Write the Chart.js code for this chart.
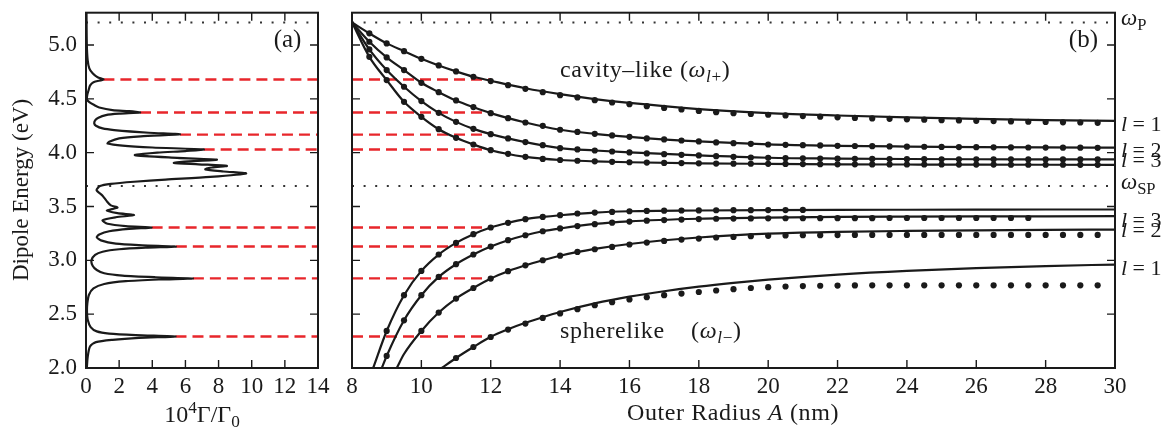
<!DOCTYPE html>
<html><head><meta charset="utf-8">
<script src="https://cdn.jsdelivr.net/npm/chart.js@4.4.1/dist/chart.umd.min.js"></script>
<style>
html,body{margin:0;padding:0;background:#fff;}
#wrap{position:relative;width:1170px;height:429px;overflow:hidden;}
#ca{position:absolute;left:0;top:0;}
#cb{position:absolute;left:340px;top:0;}
</style></head><body>
<div id="wrap"><canvas id="ca" width="340" height="429"></canvas><canvas id="cb" width="830" height="429"></canvas></div>
<script>
// ---------------- data ----------------
const energyTicks = [2.0, 2.5, 3.0, 3.5, 4.0, 4.5, 5.0];
const gammaTicks = [0, 2, 4, 6, 8, 10, 12, 14];
const radiusTicks = [8, 10, 12, 14, 16, 18, 20, 22, 24, 26, 28, 30];

const wP = 5.21;     // plasma frequency line
const wSP = 3.69;    // surface plasmon line

// panel (a) spectrum: energy (eV) and 10^4 Gamma/Gamma0
const specE = [2.00,2.10,2.20,2.24,2.262,2.28,2.293,2.306,2.32,2.34,2.38,2.45,2.52,2.60,2.68,2.74,2.78,2.806,2.822,2.832,2.843,2.858,2.88,2.91,2.95,3.00,3.05,3.08,3.103,3.118,3.128,3.14,3.155,3.185,3.215,3.24,3.27,3.292,3.305,3.318,3.34,3.372,3.40,3.42,3.438,3.462,3.49,3.51,3.55,3.60,3.652,3.69,3.71,3.73,3.75,3.775,3.807,3.825,3.845,3.862,3.877,3.892,3.905,3.92,3.935,3.952,3.977,4.00,4.015,4.03,4.048,4.065,4.085,4.101,4.132,4.152,4.17,4.185,4.21,4.225,4.25,4.271,4.30,4.325,4.349,4.362,4.373,4.385,4.395,4.42,4.442,4.47,4.495,4.54,4.582,4.625,4.655,4.68,4.70,4.737,4.783,4.86,5.00,5.30];
const specG = [0.05,0.10,0.24,0.60,1.6,3.2,5.4,3.0,1.4,0.65,0.28,0.10,0.06,0.08,0.18,0.45,1.1,2.4,4.4,6.45,4.2,2.2,1.1,0.65,0.4,0.33,0.55,1.0,2.0,3.6,5.42,3.4,1.8,0.9,0.65,0.8,1.4,2.6,3.96,2.4,1.3,1.0,1.8,2.9,1.9,1.25,1.9,1.5,1.25,1.0,0.64,0.85,1.5,2.9,4.8,7.5,9.66,8.3,7.2,7.6,8.5,6.8,5.3,6.2,7.9,5.5,2.95,4.3,6.0,7.1,4.0,2.2,1.3,1.4,2.0,3.3,5.67,3.8,1.7,1.0,0.6,0.5,0.55,0.75,1.2,2.0,3.26,2.6,1.6,0.8,0.5,0.2,0.06,0.08,0.16,0.25,0.45,1.05,0.7,0.4,0.2,0.1,0.05,0.03];

// resonance energies (red dashed) and their peak heights in panel (a)
const resE = [4.68, 4.373, 4.168, 4.03, 3.305, 3.128, 2.832, 2.293];
const resG = [1.05, 3.26, 5.67, 7.1, 3.96, 5.42, 6.45, 5.4];

// panel (b) dots, outer radius A (nm)
const dotA = [8.5,9,9.5,10,10.5,11,11.5,12,12.5,13,13.5,14,14.5,15,15.5,16,16.5,17,17.5,18,18.5,19,19.5,20,20.5,21,21.5,22,22.5,23,23.5,24,24.5,25,25.5,26,26.5,27,27.5,28,28.5,29,29.5];
const cav1Dots = [5.108,5.015,4.943,4.872,4.810,4.755,4.705,4.665,4.627,4.593,4.562,4.534,4.513,4.488,4.466,4.450,4.432,4.416,4.401,4.388,4.376,4.367,4.359,4.352,4.346,4.340,4.334,4.328,4.323,4.318,4.314,4.310,4.306,4.302,4.299,4.296,4.293,4.290,4.287,4.285,4.282,4.280,4.277];
const cav2Dots = [5.030,4.885,4.767,4.649,4.562,4.485,4.423,4.367,4.320,4.280,4.249,4.213,4.193,4.175,4.160,4.147,4.132,4.123,4.113,4.104,4.095,4.088,4.082,4.076,4.073,4.070,4.067,4.064,4.062,4.060,4.058,4.056,4.055,4.053,4.052,4.051,4.050,4.049,4.048,4.047,4.046,4.046,4.045];
const cav3Dots = [4.959,4.767,4.612,4.479,4.370,4.286,4.221,4.172,4.132,4.098,4.070,4.042,4.030,4.020,4.011,4.002,3.993,3.986,3.980,3.974,3.967,3.961,3.955,3.952,3.949,3.947,3.945,3.944,3.943,3.942,3.941,3.940,3.940,3.939,3.939,3.938,3.938,3.938,3.937,3.937,3.937,3.937,3.937];
const cav4Dots = [4.890,4.674,4.472,4.333,4.218,4.138,4.076,4.023,3.989,3.961,3.942,3.932,3.925,3.920,3.915,3.911,3.908,3.905,3.903,3.901,3.899,3.898,3.897,3.896,3.895,3.894,3.893,3.892,3.892,3.891,3.891,3.890,3.890,3.890,3.889,3.889,3.889,3.888,3.888,3.888,3.888,3.887,3.887];
const sph4Dots = [null,2.344,2.676,2.902,3.054,3.162,3.243,3.305,3.348,3.382,3.403,3.419,3.435,3.444,3.450,3.456,3.459,3.461,3.463,3.464,3.465,3.466,3.466,3.467,3.467,3.468,null,null,null,null,null,null,null,null,null,null,null,null,null,null,null,null,null];
const sph3Dots = [null,2.112,2.443,2.676,2.846,2.964,3.054,3.128,3.187,3.233,3.270,3.296,3.318,3.336,3.350,3.360,3.368,3.374,3.379,3.383,3.386,3.388,3.389,3.390,3.391,3.391,3.392,3.392,3.392,3.392,3.393,3.393,3.393,3.393,3.393,3.393,3.393,3.393,3.393,null,null,null,null];
const sph2Dots = [null,null,null,2.344,2.515,2.645,2.743,2.831,2.899,2.954,3.001,3.043,3.078,3.103,3.125,3.147,3.165,3.180,3.193,3.202,3.212,3.217,3.224,3.228,3.231,3.233,3.234,3.235,3.236,3.236,3.236,3.236,3.236,3.236,3.236,3.236,3.236,3.236,3.236,3.236,3.236,3.236,3.236];
const sph1Dots = [null,null,null,null,null,2.093,2.195,2.288,2.357,2.413,2.465,2.507,2.546,2.583,2.611,2.636,2.657,2.676,2.691,2.706,2.720,2.732,2.743,2.751,2.757,2.761,2.764,2.766,2.767,2.768,2.768,2.768,2.768,2.768,2.768,2.768,2.768,2.768,2.768,2.768,2.768,2.768,2.768];

// panel (b) solid curves
const cavLineA = [8,8.5,9,9.5,10,10.5,11,11.5,12,13,14,15,16,18,20,22,24,26,28,30];
const cav1Line = [5.21,5.108,5.015,4.943,4.872,4.81,4.755,4.705,4.668,4.598,4.543,4.498,4.462,4.405,4.368,4.345,4.327,4.313,4.303,4.295];
const cav2Line = [5.21,5.03,4.885,4.767,4.649,4.562,4.485,4.423,4.367,4.28,4.213,4.175,4.147,4.104,4.077,4.064,4.057,4.052,4.049,4.047];
const cav3Line = [5.21,4.959,4.767,4.612,4.479,4.37,4.286,4.221,4.172,4.098,4.042,4.02,4.002,3.974,3.953,3.945,3.941,3.939,3.938,3.937];
const cav4Line = [5.21,4.89,4.674,4.472,4.333,4.218,4.138,4.076,4.023,3.961,3.932,3.92,3.911,3.901,3.896,3.892,3.89,3.889,3.888,3.887];
const sph4LineA = [8.61,9,9.5,10,10.5,11,11.5,12,12.5,13,13.5,14,15,16,18,20,22,24,26,28,30];
const sph4Line = [2.0,2.344,2.676,2.902,3.054,3.162,3.243,3.305,3.348,3.382,3.403,3.419,3.444,3.456,3.463,3.467,3.469,3.47,3.471,3.472,3.472];
const sph3LineA = [8.86,9,9.5,10,10.5,11,11.5,12,12.5,13,13.5,14,15,16,18,20,22,24,26,28,30];
const sph3Line = [2.0,2.112,2.443,2.676,2.846,2.964,3.054,3.128,3.187,3.233,3.27,3.296,3.338,3.362,3.386,3.397,3.403,3.406,3.408,3.409,3.41];
const sph2LineA = [9.29,9.5,10,10.5,11,11.5,12,12.5,13,13.5,14,15,16,18,20,22,24,26,28,30];
const sph2Line = [2.0,2.13,2.344,2.515,2.645,2.743,2.831,2.899,2.954,3.001,3.043,3.106,3.152,3.212,3.248,3.264,3.273,3.279,3.283,3.286];
const sph1LineA = [10.59,11,11.5,12,12.5,13,13.5,14,15,16,17,18,19,20,22,24,26,28,30];
const sph1Line = [2.0,2.093,2.195,2.29,2.36,2.42,2.472,2.52,2.6,2.663,2.713,2.755,2.79,2.82,2.868,2.903,2.928,2.947,2.961];

// ---------------- style ----------------
const F = "'Liberation Serif', 'DejaVu Serif', serif";
const ink = '#1a1a1a';
const red = '#e8262b';
Chart.defaults.font.family = F;
Chart.defaults.color = ink;

function segFont(s, size) { const sz = s.s ? size * 0.72 : size; return (s.i ? 'italic ' : '') + sz + 'px ' + F; }
function drawRich(ctx, segs, x, y, size, align, rot, sp) {
  ctx.save(); ctx.translate(x, y); if (rot) ctx.rotate(rot);
  ctx.fillStyle = ink; ctx.textBaseline = 'alphabetic'; ctx.textAlign = 'left';
  if (sp) ctx.letterSpacing = sp + 'px';
  let w = 0; for (const s of segs) { ctx.font = segFont(s, size); w += ctx.measureText(s.t).width; }
  let cx = align === 'center' ? -w / 2 : align === 'right' ? -w : 0;
  for (const s of segs) {
    ctx.font = segFont(s, size);
    const dy = s.s === 'sub' ? size * 0.22 : s.s === 'sup' ? -size * 0.38 : 0;
    ctx.fillText(s.t, cx, dy); cx += ctx.measureText(s.t).width;
  }
  ctx.restore();
}

const framePlugin = {
  id: 'frame',
  afterDatasetsDraw(chart, args, opts) {
    const { ctx, chartArea: a } = chart; const sx = chart.scales.x, sy = chart.scales.y;
    ctx.save(); ctx.strokeStyle = ink; ctx.lineWidth = 1.4; const L = 8;
    ctx.beginPath();
    for (const v of opts.xt) { const p = sx.getPixelForValue(v); ctx.moveTo(p, a.bottom); ctx.lineTo(p, a.bottom - L); ctx.moveTo(p, a.top); ctx.lineTo(p, a.top + L); }
    for (const v of opts.yt) { const p = sy.getPixelForValue(v); ctx.moveTo(a.left, p); ctx.lineTo(a.left + L, p); ctx.moveTo(a.right, p); ctx.lineTo(a.right - L, p); }
    ctx.stroke();
    ctx.lineWidth = 2; ctx.strokeRect(a.left, a.top, a.right - a.left, a.bottom - a.top);
    ctx.restore();
  }
};
const notesPlugin = {
  id: 'notes',
  afterDraw(chart, args, opts) {
    const ctx = chart.ctx; const sx = chart.scales.x, sy = chart.scales.y;
    for (const it of opts.items) {
      const px = it.px != null ? it.px : sx.getPixelForValue(it.x);
      const py = it.py != null ? it.py : sy.getPixelForValue(it.y);
      drawRich(ctx, it.segs, px, py, it.size, it.align || 'left', it.rot || 0, it.sp || 0);
    }
  }
};

function pts(xs, ys) { const out = []; xs.forEach((x, i) => { if (ys[i] != null) out.push({ x: x, y: ys[i] }); }); return out; }
const setTicks = arr => s => { s.ticks = arr.map(v => ({ value: v })); };
const tickFont = { size: 23, family: F };
const fitY = w => s => { s.width = w; s.paddingTop = 0; s.paddingBottom = 0; };
const fitX = s => { s.height = 61; s.paddingLeft = 0; s.paddingRight = 0; };

// ---------------- panel (a) ----------------
const dsA = [];
dsA.push({ data: specE.map((e, i) => ({ x: specG[i], y: e })), showLine: true, borderColor: ink, borderWidth: 2.2, pointRadius: 0, tension: 0.25, order: 1 });
resE.forEach((e, i) => dsA.push({ data: [{ x: resG[i], y: e }, { x: 14, y: e }], showLine: true, borderColor: red, borderWidth: 2.4, borderDash: [11, 6], pointRadius: 0, order: 2 }));
[wP, wSP].forEach(e => dsA.push({ data: [{ x: 0, y: e }, { x: 14, y: e }], showLine: true, borderColor: '#333', borderWidth: 2, borderDash: [2, 9.6], pointRadius: 0, order: 3 }));

new Chart(document.getElementById('ca'), {
  type: 'scatter',
  data: { datasets: dsA },
  options: {
    responsive: false, animation: false, events: [],
    layout: { padding: { left: 0, right: 22, top: 12.7, bottom: 0 } },
    scales: {
      x: { type: 'linear', min: 0, max: 14, afterBuildTicks: setTicks(gammaTicks), afterFit: fitX,
           grid: { display: false, drawTicks: false }, border: { display: false },
           ticks: { padding: 5, font: tickFont, color: ink, maxRotation: 0, autoSkip: false, callback: v => String(v) } },
      y: { type: 'linear', min: 2.0, max: 5.3, afterBuildTicks: setTicks(energyTicks), afterFit: fitY(86),
           grid: { display: false, drawTicks: false }, border: { display: false },
           ticks: { padding: 9, font: tickFont, color: ink, autoSkip: false, callback: v => Number(v).toFixed(1) } }
    },
    plugins: {
      legend: { display: false }, tooltip: { enabled: false },
      frame: { xt: gammaTicks, yt: energyTicks },
      notes: { items: [
        { x: 12.16, y: 4.98, size: 25, align: 'center', segs: [{ t: '(a)' }] },
        { px: 202, py: 422, size: 24, align: 'center', segs: [{ t: '10' }, { t: '4', s: 'sup' }, { t: 'Γ/Γ' }, { t: '0', s: 'sub' }] },
        { px: 28, py: 190, size: 23, align: 'center', rot: -Math.PI / 2, segs: [{ t: 'Dipole Energy (eV)' }] }
      ] }
    }
  },
  plugins: [framePlugin, notesPlugin]
});

// ---------------- panel (b) ----------------
const dsB = [];
[[cavLineA, cav1Line], [cavLineA, cav2Line], [cavLineA, cav3Line], [cavLineA, cav4Line],
 [sph4LineA, sph4Line], [sph3LineA, sph3Line], [sph2LineA, sph2Line], [sph1LineA, sph1Line]].forEach(p =>
  dsB.push({ data: pts(p[0], p[1]), showLine: true, borderColor: ink, borderWidth: 2.2, pointRadius: 0, cubicInterpolationMode: 'monotone', order: 1 }));
[cav1Dots, cav2Dots, cav3Dots, cav4Dots, sph4Dots, sph3Dots, sph2Dots, sph1Dots].forEach(d =>
  dsB.push({ data: pts(dotA, d), showLine: false, pointRadius: 3.1, pointBackgroundColor: ink, pointBorderWidth: 0, order: 0 }));
resE.forEach(e => dsB.push({ data: [{ x: 8, y: e }, { x: 12, y: e }], showLine: true, borderColor: red, borderWidth: 2.4, borderDash: [11, 6], pointRadius: 0, order: 2 }));
[wP, wSP].forEach(e => dsB.push({ data: [{ x: 8, y: e }, { x: 30, y: e }], showLine: true, borderColor: '#333', borderWidth: 2, borderDash: [2, 9.6], pointRadius: 0, order: 3 }));

const lab = n => [{ t: 'l', i: 1 }, { t: ' = ' + n }];
new Chart(document.getElementById('cb'), {
  type: 'scatter',
  data: { datasets: dsB },
  options: {
    responsive: false, animation: false, events: [],
    layout: { padding: { left: 0, right: 55, top: 12.7, bottom: 0 } },
    scales: {
      x: { type: 'linear', min: 8, max: 30, afterBuildTicks: setTicks(radiusTicks), afterFit: fitX,
           grid: { display: false, drawTicks: false }, border: { display: false },
           ticks: { padding: 5, font: tickFont, color: ink, maxRotation: 0, autoSkip: false, callback: v => String(v) } },
      y: { type: 'linear', min: 2.0, max: 5.3, afterBuildTicks: setTicks(energyTicks), afterFit: fitY(12),
           grid: { display: false, drawTicks: false }, border: { display: false },
           ticks: { display: false } }
    },
    plugins: {
      legend: { display: false }, tooltip: { enabled: false },
      frame: { xt: radiusTicks, yt: energyTicks },
      notes: { items: [
        { x: 29.09, y: 4.98, size: 25, align: 'center', segs: [{ t: '(b)' }] },
        { x: 14.0, y: 4.706, size: 24, sp: 0.6, segs: [{ t: 'cavity–like (' }, { t: 'ω', i: 1 }, { t: 'l', i: 1, s: 'sub' }, { t: '+', s: 'sub' }, { t: ')' }] },
        { x: 14.0, y: 2.279, size: 24, sp: 0.6, segs: [{ t: 'spherelike    (' }, { t: 'ω', i: 1 }, { t: 'l', i: 1, s: 'sub' }, { t: '−', s: 'sub' }, { t: ')' }] },
        { x: 30.17, y: 5.185, size: 23, segs: [{ t: 'ω', i: 1 }, { t: 'P', s: 'sub' }] },
        { x: 30.17, y: 4.20, size: 22, segs: lab(1) },
        { x: 30.17, y: 3.958, size: 22, segs: lab(2) },
        { x: 30.17, y: 3.865, size: 22, segs: lab(3) },
        { x: 30.17, y: 3.661, size: 23, segs: [{ t: 'ω', i: 1 }, { t: 'SP', s: 'sub' }] },
        { x: 30.17, y: 3.308, size: 22, segs: lab(3) },
        { x: 30.17, y: 3.215, size: 22, segs: lab(2) },
        { x: 30.17, y: 2.862, size: 22, segs: lab(1) },
        { px: 393, py: 420, size: 24, align: 'center', sp: 0.6, segs: [{ t: 'Outer Radius ' }, { t: 'A', i: 1 }, { t: ' (nm)' }] }
      ] }
    }
  },
  plugins: [framePlugin, notesPlugin]
});
</script>
</body></html>
